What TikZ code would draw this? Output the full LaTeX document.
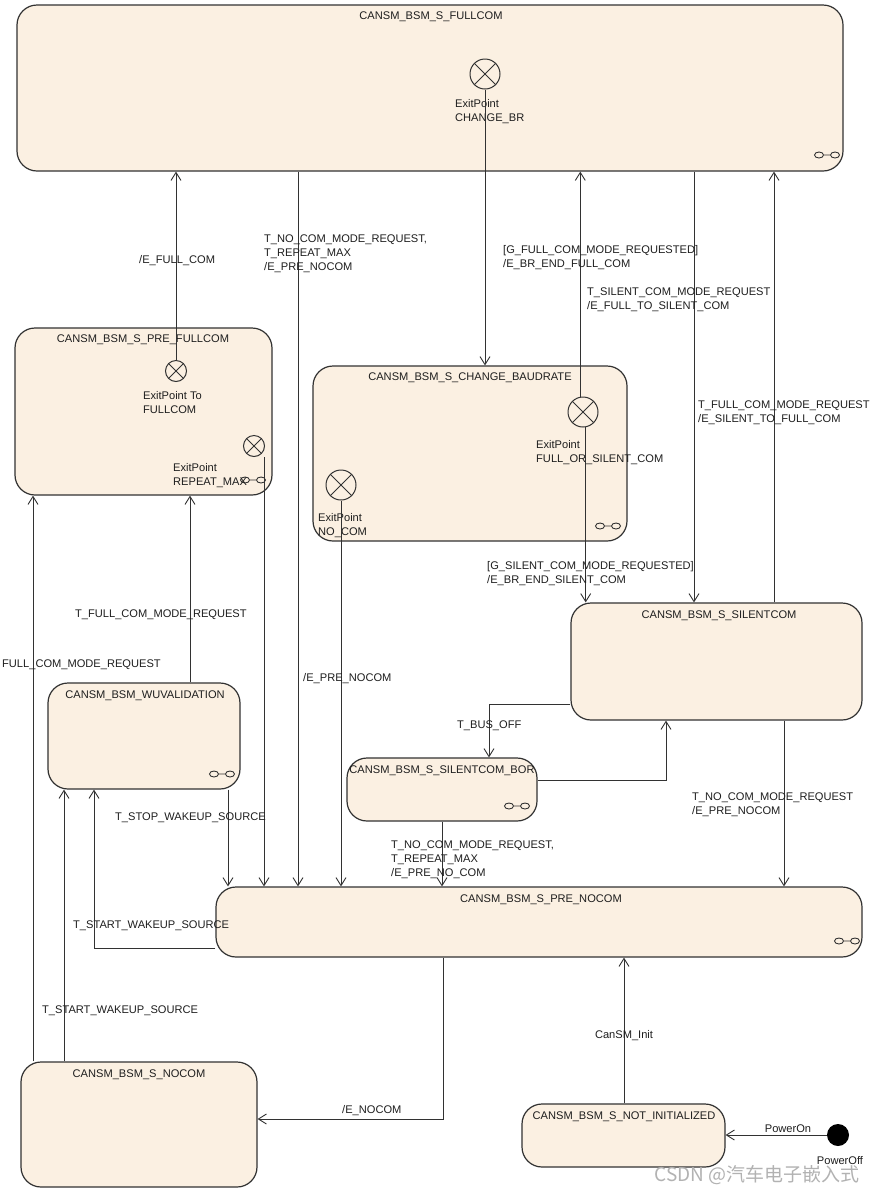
\documentclass[tikz,border=0pt]{standalone}
\usepackage{fontspec}
\setmainfont{Liberation Sans}
\newfontfamily\cjkfont{Noto Sans CJK SC}
\usetikzlibrary{arrows.meta}
\definecolor{stfill}{RGB}{251,240,226}
\definecolor{stline}{RGB}{50,50,50}
\definecolor{txt}{RGB}{30,30,30}
\begin{document}
\begin{tikzpicture}[x=1pt,y=-1pt,
  font=\fontsize{11.1}{14}\selectfont,
  st/.style={draw=stline, fill=stfill, line width=1.2pt, rounded corners=20pt, inner sep=0pt},
  ttl/.style={text=txt, inner sep=0pt, anchor=center, yshift=-1.5pt},
  lbl/.style={text=txt, inner sep=0pt, anchor=west, align=left, yshift=-1.5pt},
  tr/.style={draw=stline, line width=0.9pt, -{Straight Barb[length=8pt,width=10pt]}},
  exitp/.style={circle, draw=stline, line width=1pt, inner sep=0pt, minimum size=#1,
    path picture={\draw[stline, line width=0.9pt]
      (path picture bounding box.north west) -- (path picture bounding box.south east)
      (path picture bounding box.north east) -- (path picture bounding box.south west);}},
  pics/infsym/.style={code={
    \draw[stline, line width=0.9pt] (-8,0) ellipse [x radius=4.5pt, y radius=3pt]
      (8,0) ellipse [x radius=4.5pt, y radius=3pt] (-3.5,0) -- (3.5,0);}}
]
\fill[white] (0,0) rectangle (872,1195);
\useasboundingbox (0,0) rectangle (872,1195);

% ---------- states ----------
\node[st, minimum width=826pt, minimum height=166pt] (fullcom) at (430,88) {};
\node[st, minimum width=257pt, minimum height=167pt] (prefull) at (143.5,411.5) {};
\node[st, minimum width=314pt, minimum height=175pt] (changebr) at (470,453.5) {};
\node[st, minimum width=291pt, minimum height=117pt] (silent) at (716.5,661.5) {};
\node[st, minimum width=190pt, minimum height=63pt] (bor) at (442,789.5) {};
\node[st, minimum width=192pt, minimum height=106pt] (wuval) at (144,736) {};
\node[st, minimum width=646pt, minimum height=70pt] (prenocom) at (539,922) {};
\node[st, minimum width=236pt, minimum height=125pt] (nocom) at (139,1124.5) {};
\node[st, minimum width=203pt, minimum height=63pt] (notinit) at (623.5,1135.5) {};

% titles
\node[ttl] (fullcomT) at (431,15) {CANSM\_BSM\_S\_FULLCOM};
\node[ttl] (prefullT) at (143,338) {CANSM\_BSM\_S\_PRE\_FULLCOM};
\node[ttl] (changebrT) at (470,376) {CANSM\_BSM\_S\_CHANGE\_BAUDRATE};
\node[ttl] (silentT) at (719,614) {CANSM\_BSM\_S\_SILENTCOM};
\node[ttl] (borT) at (442,769) {CANSM\_BSM\_S\_SILENTCOM\_BOR};
\node[ttl] (wuvalT) at (145,694) {CANSM\_BSM\_WUVALIDATION};
\node[ttl] (prenocomT) at (541,898) {CANSM\_BSM\_S\_PRE\_NOCOM};
\node[ttl] (nocomT) at (139,1073) {CANSM\_BSM\_S\_NOCOM};
\node[ttl] (notinitT) at (624,1115) {CANSM\_BSM\_S\_NOT\_INITIALIZED};

% sub-machine symbols
\pic at (827,155) {infsym};
\pic at (253,480) {infsym};
\pic at (608,526) {infsym};
\pic at (222,774) {infsym};
\pic at (517,806) {infsym};
\pic at (847,941) {infsym};

% exit points
\node[exitp=30pt] (exCBR) at (485,74) {};
\node[exitp=21pt] (exFull) at (176,371) {};
\node[exitp=21pt] (exRep) at (254,446) {};
\node[exitp=30pt] (exFoS) at (583,412) {};
\node[exitp=30pt] (exNoCom) at (341,485) {};

\node[lbl] (exCBRl) at (455,110.5) {ExitPoint\\CHANGE\_BR};
\node[lbl] (exFulll) at (143,401) {ExitPoint To\\FULLCOM};
\node[lbl] (exRepl) at (173,474) {ExitPoint\\REPEAT\_MAX};
\node[lbl] (exFoSl) at (536,451.5) {ExitPoint\\FULL\_OR\_SILENT\_COM};
\node[lbl] (exNoComl) at (318,524) {ExitPoint\\NO\_COM};

% initial pseudo state
\node[circle, fill=black, minimum size=22pt, inner sep=0pt] (init) at (838,1135) {};

% ---------- columns / bends ----------
\coordinate (v298) at (298,0);
\coordinate (v694) at (694,0);
\coordinate (v774) at (774,0);
\coordinate (v190) at (190,0);
\coordinate (v33) at (33,0);
\coordinate (v228) at (228,0);
\coordinate (v64) at (64,0);
\coordinate (v784) at (784,0);
\coordinate (v442) at (442,0);
\coordinate (v624) at (624,0);
\coordinate (repStart) at (264,457);
\coordinate (k13) at (94,948);
\coordinate (k15) at (489,704);
\coordinate (k16) at (666,780);
\coordinate (k19) at (443,1119);

% ---------- transitions ----------
\draw[tr] (exFull.north) -- (exFull.north |- fullcom.south);
\draw[tr] (v298 |- fullcom.south) -- (v298 |- prenocom.north);
\draw[tr] (exCBR.south) -- (exCBR.south |- changebr.north);
\draw[tr] (exFoS.100) -- (exFoS.100 |- fullcom.south);
\draw[tr] (exFoS.-80) -- (exFoS.-80 |- silent.north);
\draw[tr] (v694 |- fullcom.south) -- (v694 |- silent.north);
\draw[tr] (v774 |- silent.north) -- (v774 |- fullcom.south);
\draw[tr] (repStart) -- (repStart |- prenocom.north);
\draw[tr] (exNoCom.south) -- (exNoCom.south |- prenocom.north);
\draw[tr] (v190 |- wuval.north) -- (v190 |- prefull.south);
\draw[tr] (v33 |- nocom.north) -- (v33 |- prefull.south);
\draw[tr] (v228 |- wuval.south) -- (v228 |- prenocom.north);
\draw[tr] (k13 -| prenocom.west) -- (k13) -- (k13 |- wuval.south);
\draw[tr] (v64 |- nocom.north) -- (v64 |- wuval.south);
\draw[tr] (k15 -| silent.west) -- (k15) -- (k15 |- bor.north);
\draw[tr] (k16 -| bor.east) -- (k16) -- (k16 |- silent.south);
\draw[tr] (v784 |- silent.south) -- (v784 |- prenocom.north);
\draw[tr] (v442 |- bor.south) -- (v442 |- prenocom.north);
\draw[tr] (k19 |- prenocom.south) -- (k19) -- (k19 -| nocom.east);
\draw[tr] (v624 |- notinit.north) -- (v624 |- prenocom.south);
\draw[tr] (init) -- (init -| notinit.east);

% ---------- transition labels ----------
\node[lbl] (t1) at (139,259) {/E\_FULL\_COM};
\node[lbl] (t2) at (264,252) {T\_NO\_COM\_MODE\_REQUEST,\\T\_REPEAT\_MAX\\/E\_PRE\_NOCOM};
\node[lbl] (t3) at (503,256.5) {[G\_FULL\_COM\_MODE\_REQUESTED]\\/E\_BR\_END\_FULL\_COM};
\node[lbl] (t4) at (587,298.5) {T\_SILENT\_COM\_MODE\_REQUEST\\/E\_FULL\_TO\_SILENT\_COM};
\node[lbl] (t5) at (698,411) {T\_FULL\_COM\_MODE\_REQUEST\\/E\_SILENT\_TO\_FULL\_COM};
\node[lbl] (t6) at (487,572) {[G\_SILENT\_COM\_MODE\_REQUESTED]\\/E\_BR\_END\_SILENT\_COM};
\node[lbl] (t7) at (303,677) {/E\_PRE\_NOCOM};
\node[lbl] (t8) at (75,613) {T\_FULL\_COM\_MODE\_REQUEST};
\node[lbl] (t9) at (2,663) {FULL\_COM\_MODE\_REQUEST};
\node[lbl] (t10) at (115,816) {T\_STOP\_WAKEUP\_SOURCE};
\node[lbl] (t11) at (73,924) {T\_START\_WAKEUP\_SOURCE};
\node[lbl] (t12) at (42,1009) {T\_START\_WAKEUP\_SOURCE};
\node[lbl] (t13) at (457,724) {T\_BUS\_OFF};
\node[lbl] (t14) at (692,803.5) {T\_NO\_COM\_MODE\_REQUEST\\/E\_PRE\_NOCOM};
\node[lbl] (t15) at (391,858) {T\_NO\_COM\_MODE\_REQUEST,\\T\_REPEAT\_MAX\\/E\_PRE\_NO\_COM};
\node[lbl] (t16) at (342,1109) {/E\_NOCOM};
\node[ttl] (t17) at (624,1034) {CanSM\_Init};
\node[ttl] (t18) at (788,1127) {PowerOn};
\node[ttl] (t19) at (840,1159) {PowerOff};

% watermark
\node[text=gray!60, inner sep=0pt, anchor=east, font=\cjkfont\fontsize{19}{19}\selectfont] (wm) at (860,1175) {CSDN @汽车电子嵌入式};
\end{tikzpicture}
\end{document}
